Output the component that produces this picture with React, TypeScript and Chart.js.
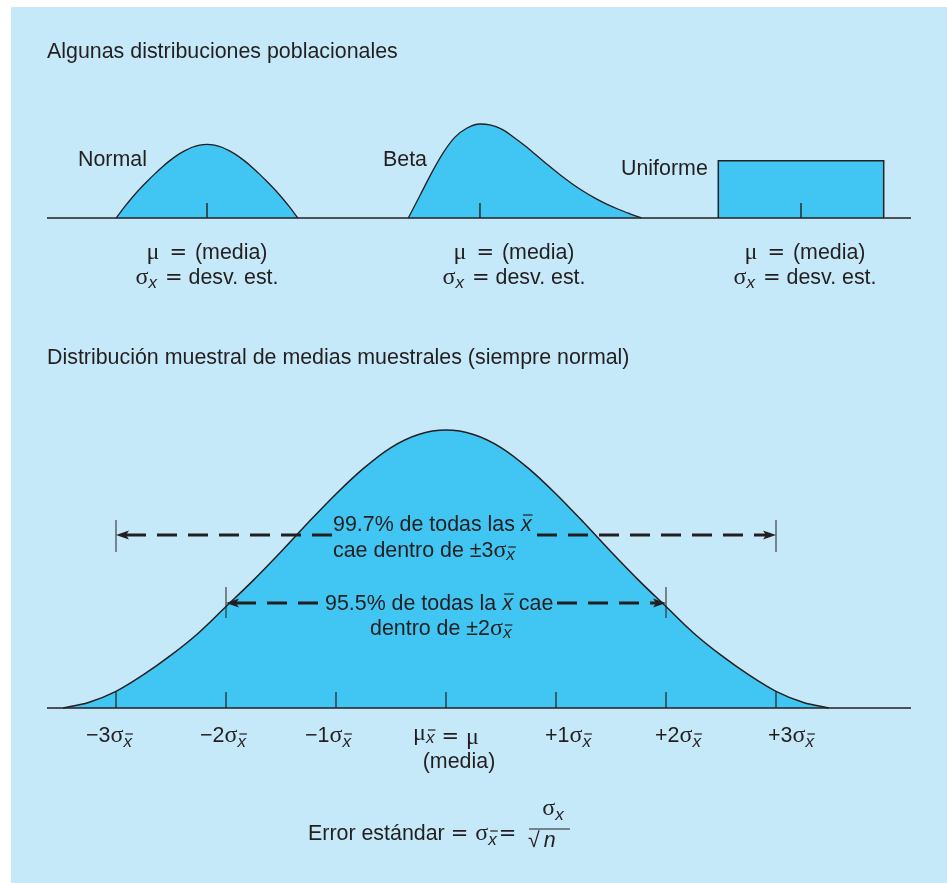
import React, { useEffect, useRef } from "react";
import { Chart, registerables } from "chart.js";
Chart.register(...registerables);

const W = 947;
const H = 883;

// ---------------- data ----------------
// population distributions (relative heights, peak = 1)
const normalX = [-3.03, -2.75, -2.5, -2.25, -2.0, -1.75, -1.5, -1.25, -1.0, -0.75, -0.5, -0.25, 0, 0.25, 0.5, 0.75, 1.0, 1.25, 1.5, 1.75, 2.0, 2.25, 2.5, 2.75, 3.03];
const normalY = [0, 0.15, 0.275, 0.39, 0.495, 0.595, 0.69, 0.775, 0.85, 0.91, 0.96, 0.99, 1, 0.99, 0.96, 0.91, 0.85, 0.775, 0.69, 0.595, 0.495, 0.39, 0.275, 0.15, 0];
const betaX = [0, 0.05, 0.1, 0.15, 0.2, 0.25, 0.307, 0.35, 0.4, 0.45, 0.5, 0.55, 0.6, 0.65, 0.7, 0.75, 0.8, 0.85, 0.9, 0.95, 1];
const betaY = [0, 0.24, 0.48, 0.695, 0.86, 0.955, 1, 0.99, 0.945, 0.862, 0.768, 0.665, 0.56, 0.46, 0.368, 0.285, 0.212, 0.148, 0.093, 0.045, 0];
const uniformX = [0, 0, 1, 1];
const uniformY = [0, 1, 1, 0];
const normalMean = 0;
const betaMean = 0.307;
const uniformMean = 0.5;

// sampling distribution of the mean (x in units of sigma_xbar)
const samplingX = [-3.48, -3.25, -3, -2.75, -2.5, -2.25, -2, -1.75, -1.5, -1.25, -1, -0.75, -0.5, -0.25, 0, 0.25, 0.5, 0.75, 1, 1.25, 1.5, 1.75, 2, 2.25, 2.5, 2.75, 3, 3.25, 3.48];
const samplingY = [0, 0.02, 0.06, 0.12, 0.19, 0.27, 0.365, 0.46, 0.562, 0.668, 0.77, 0.862, 0.937, 0.984, 1, 0.984, 0.937, 0.862, 0.77, 0.668, 0.562, 0.46, 0.365, 0.27, 0.19, 0.12, 0.06, 0.02, 0];
const sigmaTicks = [-3, -2, -1, 0, 1, 2, 3];
const sigmaTickLabels = ["\u22123", "\u22122", "\u22121", "", "+1", "+2", "+3"];
const coveragePct = ["99.7%", "95.5%"];
const coverageK = [3, 2];

// ---------------- styles ----------------
const INK = "#231F20";
const FILL = "#41C5F2";
const PANEL = "#C6E9F9";
const SANS = '"Liberation Sans", Arial, Helvetica, sans-serif';
const SERIF = '"Liberation Serif", "Times New Roman", serif';
const T = `21.4px ${SANS}`;
const TI = `italic 21.4px ${SANS}`;
const G = `24px ${SERIF}`;
const SUBI = `italic 17px ${SANS}`;
const EQ = `21px "DejaVu Sans", ${SANS}`;

type Run = { t: string; f: string; dy?: number; gap?: number; ov?: number };

function drawRuns(ctx: CanvasRenderingContext2D, list: Run[], x: number, y: number, align: "left" | "center") {
  ctx.textBaseline = "alphabetic";
  ctx.textAlign = "left";
  let total = 0;
  const widths = list.map((r) => {
    ctx.font = r.f;
    const w = ctx.measureText(r.t).width;
    total += w + (r.gap || 0);
    return w;
  });
  let cx = align === "center" ? x - total / 2 : x;
  list.forEach((r, i) => {
    cx += r.gap || 0;
    ctx.font = r.f;
    const yy = y + (r.dy || 0);
    ctx.fillText(r.t, cx, yy);
    if (r.ov) {
      ctx.save();
      ctx.lineWidth = 1.2;
      ctx.beginPath();
      ctx.moveTo(cx + 2, yy - r.ov);
      ctx.lineTo(cx + widths[i] + 1, yy - r.ov);
      ctx.stroke();
      ctx.restore();
    }
    cx += widths[i];
  });
}

function seg(ctx: CanvasRenderingContext2D, x1: number, y1: number, x2: number, y2: number, lw: number) {
  ctx.save();
  ctx.lineWidth = lw;
  ctx.beginPath();
  ctx.moveTo(x1, y1);
  ctx.lineTo(x2, y2);
  ctx.stroke();
  ctx.restore();
}

function head(ctx: CanvasRenderingContext2D, tipX: number, y: number, dir: number) {
  ctx.beginPath();
  ctx.moveTo(tipX, y);
  ctx.lineTo(tipX + dir * 13, y - 4.5);
  ctx.lineTo(tipX + dir * 10, y);
  ctx.lineTo(tipX + dir * 13, y + 4.5);
  ctx.closePath();
  ctx.fill();
}

const xLin = (p0: number, p1: number) => {
  const k = p1 - p0;
  return { type: "linear", axis: "x", position: "bottom", display: false, bounds: "data", min: -p0 / k, max: (W - p0) / k };
};
const yLin = (p0: number, p1: number) => {
  const k = p0 - p1;
  return { type: "linear", axis: "y", position: "left", display: false, bounds: "data", min: -(H - p0) / k, max: p0 / k };
};

const pts = (xs: number[], ys: number[]) => xs.map((x, i) => ({ x, y: ys[i] }));

const curve = (data: any[], xID: string, yID: string, smooth: boolean, bw: number) => ({
  data,
  xAxisID: xID,
  yAxisID: yID,
  showLine: true,
  fill: "origin",
  backgroundColor: FILL,
  borderColor: INK,
  borderWidth: bw,
  pointRadius: 0,
  tension: smooth ? 0.4 : 0,
  cubicInterpolationMode: smooth ? "monotone" : "default",
});

const figurePlugin = {
  id: "figure",
  beforeDraw(chart: any) {
    const ctx = chart.ctx as CanvasRenderingContext2D;
    ctx.save();
    ctx.fillStyle = "#ffffff";
    ctx.fillRect(0, 0, W, H);
    ctx.fillStyle = PANEL;
    ctx.fillRect(11, 7, W - 11, H - 7);
    ctx.restore();
  },
  afterDatasetsDraw(chart: any) {
    const ctx = chart.ctx as CanvasRenderingContext2D;
    const s = chart.scales;
    ctx.save();
    ctx.strokeStyle = INK;
    ctx.fillStyle = INK;

    // baselines
    const topBase = s.yN.getPixelForValue(0);
    const botBase = s.yS.getPixelForValue(0);
    seg(ctx, 47, topBase, 911, topBase, 1.6);
    seg(ctx, 47, botBase, 911, botBase, 1.6);

    // mean marks on population distributions
    ([[s.xN, normalMean], [s.xB, betaMean], [s.xU, uniformMean]] as any[]).forEach(([sc, m]) => {
      const px = sc.getPixelForValue(m);
      seg(ctx, px, topBase, px, topBase - 15, 1.4);
    });

    // sigma ticks
    sigmaTicks.forEach((v) => {
      const px = s.xS.getPixelForValue(v);
      seg(ctx, px, botBase, px, botBase - 16, 1.2);
    });

    // coverage arrows
    const arrowY = [535, 603];
    const barY = [[520, 552], [587, 618]];
    const gapL = [332, 323];
    const gapR = [537, 557];
    coverageK.forEach((k, i) => {
      const xl = s.xS.getPixelForValue(-k);
      const xr = s.xS.getPixelForValue(k);
      const y = arrowY[i];
      seg(ctx, xl, barY[i][0], xl, barY[i][1], 1);
      seg(ctx, xr, barY[i][0], xr, barY[i][1], 1);
      ctx.save();
      ctx.lineWidth = 3;
      ctx.setLineDash([20, 11]);
      ctx.beginPath();
      ctx.moveTo(xl + 10, y);
      ctx.lineTo(gapL[i], y);
      ctx.stroke();
      ctx.beginPath();
      ctx.moveTo(gapR[i], y);
      ctx.lineTo(xr - 10, y);
      ctx.stroke();
      ctx.restore();
      head(ctx, xl, y, 1);
      head(ctx, xr, y, -1);
    });

    // ---- texts ----
    drawRuns(ctx, [{ t: "Algunas distribuciones poblacionales", f: T }], 47, 58, "left");
    drawRuns(ctx, [{ t: "Normal", f: T }], 78, 166, "left");
    drawRuns(ctx, [{ t: "Beta", f: T }], 383, 166, "left");
    drawRuns(ctx, [{ t: "Uniforme", f: T }], 621, 175, "left");
    [207, 514, 805].forEach((cx) => {
      drawRuns(ctx, [{ t: "\u03bc", f: G }, { t: "=", f: EQ, gap: 10 }, { t: "(media)", f: T, gap: 8 }], cx, 259, "center");
      drawRuns(ctx, [{ t: "\u03c3", f: G }, { t: "x", f: SUBI, dy: 4 }, { t: "=", f: EQ, gap: 8 }, { t: "desv. est.", f: T, gap: 6 }], cx, 284, "center");
    });

    drawRuns(ctx, [{ t: "Distribuci\u00f3n muestral de medias muestrales (siempre normal)", f: T }], 47, 364, "left");

    // coverage texts
    drawRuns(ctx, [{ t: coveragePct[0] + " de todas las ", f: T }, { t: "x", f: TI, ov: 16 }], 333, 531, "left");
    drawRuns(ctx, [{ t: "cae dentro de \u00b1" + coverageK[0], f: T }, { t: "\u03c3", f: G }, { t: "x", f: SUBI, dy: 3, ov: 13 }], 333, 557, "left");
    drawRuns(ctx, [{ t: coveragePct[1] + " de todas la ", f: T }, { t: "x", f: TI, ov: 16 }, { t: " cae", f: T }], 325, 610, "left");
    drawRuns(ctx, [{ t: "dentro de \u00b1" + coverageK[1], f: T }, { t: "\u03c3", f: G }, { t: "x", f: SUBI, dy: 3, ov: 13 }], 370, 635, "left");

    // tick labels
    const shift = [-7, -3, -8, 0, 12, 12, 15];
    sigmaTicks.forEach((v, i) => {
      const px = s.xS.getPixelForValue(v) + shift[i];
      if (sigmaTickLabels[i]) {
        drawRuns(ctx, [{ t: sigmaTickLabels[i], f: T }, { t: "\u03c3", f: G }, { t: "x", f: SUBI, dy: 5, ov: 13 }], px, 742, "center");
      } else {
        drawRuns(ctx, [{ t: "\u03bc", f: G }, { t: "x", f: SUBI, dy: 3, ov: 13 }, { t: "=", f: EQ, gap: 7, dy: 3 }, { t: "\u03bc", f: G, gap: 7, dy: 4 }], px, 740, "center");
        drawRuns(ctx, [{ t: "(media)", f: T }], px + 13, 768, "center");
      }
    });

    // standard error formula
    drawRuns(ctx, [{ t: "Error est\u00e1ndar", f: T }, { t: "=", f: EQ, gap: 6 }, { t: "\u03c3", f: G, gap: 7 }, { t: "x", f: SUBI, dy: 5, ov: 14 }, { t: "=", f: EQ, gap: 2 }], 308, 840, "left");
    drawRuns(ctx, [{ t: "\u03c3", f: G }, { t: "x", f: SUBI, dy: 5 }], 553, 815, "center");
    seg(ctx, 529, 829, 570, 829, 1.2);
    drawRuns(ctx, [{ t: "\u221a", f: T }, { t: "n", f: TI, gap: 4 }], 528, 847, "left");

    ctx.restore();
  },
};

export default function App() {
  const ref = useRef<HTMLCanvasElement | null>(null);
  useEffect(() => {
    if (!ref.current) return;
    const chart = new Chart(ref.current, {
      type: "scatter",
      data: {
        datasets: [
          curve(pts(normalX, normalY), "xN", "yN", true, 1.3),
          curve(pts(betaX, betaY), "xB", "yB", true, 1.3),
          curve(pts(uniformX, uniformY), "xU", "yU", false, 1.5),
          curve(pts(samplingX, samplingY), "xS", "yS", true, 1.5),
        ] as any,
      },
      options: {
        responsive: false,
        animation: false,
        events: [],
        layout: { padding: 0 },
        plugins: { legend: { display: false }, tooltip: { enabled: false }, title: { display: false } },
        scales: {
          xN: xLin(207, 237),
          yN: yLin(218, 144.3),
          xB: xLin(408.3, 641.7),
          yB: yLin(218, 124),
          xU: xLin(718.3, 883.7),
          yU: yLin(218, 160.7),
          xS: xLin(446, 556),
          yS: yLin(708, 430),
        } as any,
      },
      plugins: [figurePlugin],
    });
    return () => chart.destroy();
  }, []);
  return (
    <div style={{ position: "absolute", left: 0, top: 0, width: W, height: H }}>
      <canvas ref={ref} width={W} height={H} style={{ display: "block", width: W, height: H }} />
    </div>
  );
}
